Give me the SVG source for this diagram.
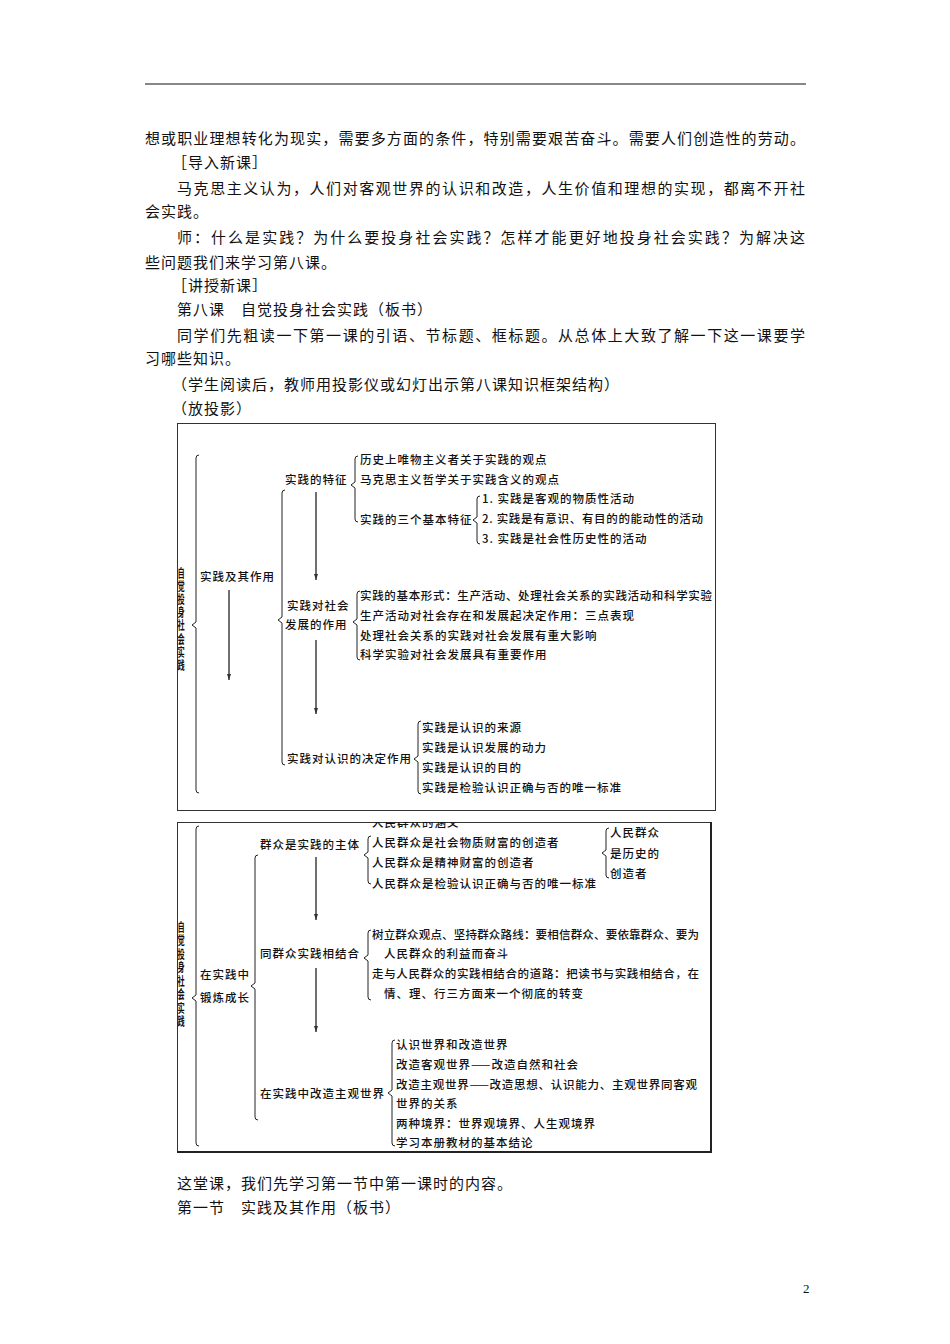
<svg xmlns="http://www.w3.org/2000/svg" width="950" height="1344" viewBox="0 0 950 1344">
<style>
.b{font-family:"Liberation Serif","Noto Sans CJK SC",serif;font-size:15px;letter-spacing:1px;fill:#111}
.t{font-family:"Noto Sans CJK SC",sans-serif;font-size:11.5px;font-weight:500;letter-spacing:1px;fill:#111}
.v{font-family:"Noto Sans CJK SC",sans-serif;font-size:12px;font-weight:700;fill:#111;writing-mode:vertical-rl;letter-spacing:1.2px}
.br{fill:none;stroke:#222;stroke-width:1}
.ar{fill:none;stroke:#333;stroke-width:1.4}
.box{fill:#fff;stroke:#333;stroke-width:1}
</style>
<defs>
<marker id="ah" markerUnits="userSpaceOnUse" markerWidth="8" markerHeight="6" refX="6" refY="3" orient="auto">
<path d="M0,1 L6,3 L0,5 z" fill="#333"/>
</marker>
<clipPath id="c2"><rect x="177" y="822" width="535" height="330"/></clipPath>
</defs>
<rect width="950" height="1344" fill="#fff"/>
<line x1="145" y1="84" x2="806" y2="84" stroke="#111" stroke-width="1"/>

<g id="body-text">
<text class="b" x="145" y="144" textLength="661" lengthAdjust="spacing">想或职业理想转化为现实，需要多方面的条件，特别需要艰苦奋斗。需要人们创造性的劳动。</text>
<text class="b" x="172" y="168">［导入新课］</text>
<text class="b" x="177" y="194" textLength="629" lengthAdjust="spacing">马克思主义认为，人们对客观世界的认识和改造，人生价值和理想的实现，都离不开社</text>
<text class="b" x="145" y="217">会实践。</text>
<text class="b" x="177" y="243" textLength="629" lengthAdjust="spacing">师：什么是实践？为什么要投身社会实践？怎样才能更好地投身社会实践？为解决这</text>
<text class="b" x="145" y="268">些问题我们来学习第八课。</text>
<text class="b" x="172" y="291">［讲授新课］</text>
<text class="b" x="177" y="315">第八课　自觉投身社会实践（板书）</text>
<text class="b" x="177" y="341" textLength="629" lengthAdjust="spacing">同学们先粗读一下第一课的引语、节标题、框标题。从总体上大致了解一下这一课要学</text>
<text class="b" x="145" y="364">习哪些知识。</text>
<text class="b" x="172" y="390">（学生阅读后，教师用投影仪或幻灯出示第八课知识框架结构）</text>
<text class="b" x="172" y="414">（放投影）</text>
<text class="b" x="177" y="1189">这堂课，我们先学习第一节中第一课时的内容。</text>
<text class="b" x="177" y="1213">第一节　实践及其作用（板书）</text>
<text class="b" x="803" y="1293" style="font-size:13px">2</text>
</g>

<!-- Box 1 -->
<rect id="box1" class="box" x="177.5" y="423.5" width="538" height="387"/>
<!-- Box 2 -->
<g id="box2">
<rect class="box" x="177.5" y="822.5" width="534" height="329.5"/>
<line x1="711" y1="822" x2="711" y2="1153" stroke="#222" stroke-width="2"/>
<line x1="177" y1="1152" x2="712" y2="1152" stroke="#222" stroke-width="2"/>
</g>

<g id="connectors">
<!-- box1 braces -->
<path class="br" d="M199,455 Q196,455 196,458 L196,622 L192,625 L196,628 L196,790 Q196,793 199,793"/>
<path class="br" d="M285,490 Q282,490 282,493 L282,617 L278,620 L282,623 L282,762 Q282,765 285,765"/>
<path class="br" d="M358,456 Q355,456 355,459 L355,482 L351,485 L355,488 L355,519 Q355,522 358,522"/>
<path class="br" d="M480,496 Q477,496 477,499 L477,517 L473,520 L477,523 L477,541 Q477,544 480,544"/>
<path class="br" d="M360,591 Q357,591 357,594 L357,619 L353,622 L357,625 L357,657 Q357,660 360,660"/>
<path class="br" d="M421,721 Q418,721 418,724 L418,756 L414,759 L418,762 L418,791 Q418,794 421,794"/>
<!-- box1 arrows -->
<line class="ar" x1="229" y1="590" x2="229" y2="680" marker-end="url(#ah)"/>
<line class="ar" x1="316" y1="492" x2="316" y2="580" marker-end="url(#ah)"/>
<line class="ar" x1="316" y1="640" x2="316" y2="714" marker-end="url(#ah)"/>
<!-- box2 braces -->
<path class="br" d="M199,826 Q196,826 196,829 L196,995 L192,998 L196,1001 L196,1143 Q196,1146 199,1146"/>
<path class="br" d="M258,855 Q255,855 255,858 L255,983 L251,986 L255,989 L255,1117 Q255,1120 258,1120"/>
<path class="br" d="M371,836 Q368,836 368,839 L368,852 L364,855 L368,858 L368,881 Q368,884 371,884"/>
<path class="br" d="M609,828 Q606,828 606,831 L606,850 L602,853 L606,856 L606,875 Q606,878 609,878"/>
<path class="br" d="M371,930 Q368,930 368,933 L368,955 L364,958 L368,961 L368,997 Q368,1000 371,1000"/>
<path class="br" d="M395,1040 Q392,1040 392,1043 L392,1090 L388,1093 L392,1096 L392,1143 Q392,1146 395,1146"/>
<!-- box2 arrows -->
<line class="ar" x1="316" y1="857" x2="316" y2="920" marker-end="url(#ah)"/>
<line class="ar" x1="316" y1="968" x2="316" y2="1032" marker-end="url(#ah)"/>
</g>

<g id="n-root1">
<text class="v" transform="translate(181,567) scale(0.6,1)" x="0" y="0">自觉投身社会实践</text>
</g>
<g id="n-sjjqzy"><text class="t" x="200" y="581.4">实践及其作用</text></g>
<g id="n-tezheng"><text class="t" x="285" y="484.4">实践的特征</text></g>
<g id="n-tezheng-items">
<text class="t" x="360" y="464.4">历史上唯物主义者关于实践的观点</text>
<text class="t" x="360" y="484.4">马克思主义哲学关于实践含义的观点</text>
<text class="t" x="360" y="524.4">实践的三个基本特征</text>
</g>
<g id="n-three">
<text class="t" x="482" y="503.4">1. 实践是客观的物质性活动</text>
<text class="t" x="482" y="523.4" textLength="222" lengthAdjust="spacing">2. 实践是有意识、有目的的能动性的活动</text>
<text class="t" x="482" y="543.4">3. 实践是社会性历史性的活动</text>
</g>
<g id="n-shehui">
<text class="t" x="287" y="610.4">实践对社会</text>
<text class="t" x="285" y="629.4">发展的作用</text>
</g>
<g id="n-shehui-items">
<text class="t" x="360" y="600.4" textLength="353" lengthAdjust="spacing">实践的基本形式：生产活动、处理社会关系的实践活动和科学实验</text>
<text class="t" x="360" y="620.4">生产活动对社会存在和发展起决定作用：三点表现</text>
<text class="t" x="360" y="640.4">处理社会关系的实践对社会发展有重大影响</text>
<text class="t" x="360" y="659.4">科学实验对社会发展具有重要作用</text>
</g>
<g id="n-renshi"><text class="t" x="287" y="763.4">实践对认识的决定作用</text></g>
<g id="n-renshi-items">
<text class="t" x="422" y="732.4">实践是认识的来源</text>
<text class="t" x="422" y="752.4">实践是认识发展的动力</text>
<text class="t" x="422" y="772.4">实践是认识的目的</text>
<text class="t" x="422" y="792.4">实践是检验认识正确与否的唯一标准</text>
</g>

<g id="n-root2">
<text class="v" transform="translate(181,921) scale(0.6,1)" x="0" y="0" style="letter-spacing:1.5px">自觉投身社会实践</text>
</g>
<g id="n-duanlian">
<text class="t" x="200" y="979.4">在实践中</text>
<text class="t" x="200" y="1002.4">锻炼成长</text>
</g>
<g id="n-zhuti"><text class="t" x="260" y="849.4">群众是实践的主体</text></g>
<g id="n-zhuti-items" clip-path="url(#c2)">
<text class="t" x="372" y="827.4">人民群众的涵义</text>
<text class="t" x="372" y="847.4">人民群众是社会物质财富的创造者</text>
<text class="t" x="372" y="867.4">人民群众是精神财富的创造者</text>
<text class="t" x="372" y="888.4">人民群众是检验认识正确与否的唯一标准</text>
</g>
<g id="n-lishi">
<text class="t" x="610" y="837.4">人民群众</text>
<text class="t" x="610" y="858.4">是历史的</text>
<text class="t" x="610" y="878.4">创造者</text>
</g>
<g id="n-jiehe"><text class="t" x="260" y="958.4">同群众实践相结合</text></g>
<g id="n-jiehe-items">
<text class="t" x="372" y="939.4" textLength="328" lengthAdjust="spacing">树立群众观点、坚持群众路线：要相信群众、要依靠群众、要为</text>
<text class="t" x="384" y="958.4">人民群众的利益而奋斗</text>
<text class="t" x="372" y="978.4" textLength="328" lengthAdjust="spacing">走与人民群众的实践相结合的道路：把读书与实践相结合，在</text>
<text class="t" x="384" y="998.4">情、理、行三方面来一个彻底的转变</text>
</g>
<g id="n-gaizao"><text class="t" x="260" y="1098.4">在实践中改造主观世界</text></g>
<g id="n-gaizao-items">
<text class="t" x="396" y="1049.4">认识世界和改造世界</text>
<text class="t" x="396" y="1069.4">改造客观世界——改造自然和社会</text>
<text class="t" x="396" y="1089.4" textLength="302" lengthAdjust="spacing">改造主观世界——改造思想、认识能力、主观世界同客观</text>
<text class="t" x="396" y="1108.4">世界的关系</text>
<text class="t" x="396" y="1128.4">两种境界：世界观境界、人生观境界</text>
<text class="t" x="396" y="1147.4">学习本册教材的基本结论</text>
</g>
</svg>
